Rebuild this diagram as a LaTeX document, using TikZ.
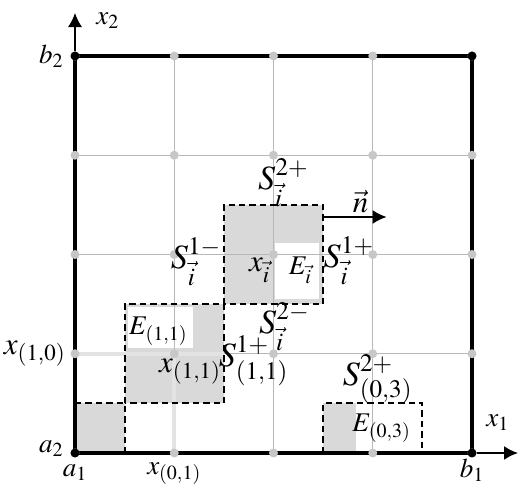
\documentclass[tikz,border=0pt]{standalone}
\usepackage{amsmath, amssymb}
\usepackage{mathptmx}
\usepackage{tikz}
\usetikzlibrary{arrows.meta, positioning}

\begin{document}
\begin{tikzpicture}[
    x             = 49.625pt,
    y             = 49.625pt,
    font          = \fontsize{13.5}{15}\selectfont,
    grid/.style   = {black!28, line width=0.5pt},
    proj/.style   = {black!11, line width=1.8pt},
    bdry/.style   = {black, line width=1.9pt},
    cell/.style   = {black, line width=0.9pt, dash pattern=on 3.2pt off 2pt},
    shade/.style  = {fill=black!15},
    gdot/.style   = {circle, fill=black!22, inner sep=0pt, minimum size=4.5pt},
    bdot/.style   = {circle, fill=black, inner sep=0pt, minimum size=4.5pt},
    axis/.style   = {-{Latex[length=7pt, width=7pt]}},
    lab/.style    = {inner sep=0pt},
    big/.style    = {inner sep=0pt, font=\fontsize{17}{19}\selectfont},
    mid/.style    = {inner sep=0pt, font=\fontsize{15.5}{17}\selectfont},
  ]
  \useasboundingbox (-0.7557,-0.3325) rectangle (4.4736,4.5642);

  \fill[shade] (0,0) rectangle (0.5,0.5);
  \fill[shade] (0.5,0.5) rectangle (1.5,1.5);
  \fill[shade] (1.5,1.5) rectangle (2.5,2.5);
  \fill[shade] (2.5,0) rectangle (2.83,0.5);
  \fill[white] (0.53,1.06) rectangle (1.19,1.47);
  \fill[white] (2.02,1.55) rectangle (2.46,2.12);

  \foreach \k in {1,2,3} {
    \draw[grid] (\k,0) -- (\k,4);
    \draw[grid] (0,\k) -- (4,\k);
  }
  \draw[proj] (0,1) -- (1.5,1);
  \draw[proj] (1,0) -- (1,1);

  \draw[cell] (0,0.5) -- (0.5,0.5) -- (0.5,0);
  \draw[cell] (0.5,0.5) rectangle (1.5,1.5);
  \draw[cell] (1.5,1.5) rectangle (2.5,2.5);
  \draw[cell] (2.5,0) -- (2.5,0.5) -- (3.5,0.5) -- (3.5,0);

  \draw[bdry] (0,0) rectangle (4,4);

  \foreach \i in {0,...,4}
    \foreach \j in {0,...,4}
      \node[gdot] (p\i\j) at (\i,\j) {};
  \foreach \i/\j in {0/0, 0/4, 4/0, 4/4}
    \node[bdot] (c\i\j) at (\i,\j) {};

  \coordinate (x2tip) at (0,4.433);
  \coordinate (x1tip) at (4.465,0);
  \coordinate (nfoot) at (2.5,2.378);
  \coordinate (ntip) at (3.14,2.378);
  \draw[axis, line width=0.6pt] (c04) -- (x2tip);
  \draw[axis, line width=1.2pt] (c40) -- (x1tip);
  \draw[axis, line width=1pt] (nfoot) -- (ntip);

  \node[mid, above left=2pt and 9pt of ntip] (ln) {$\vec{n}$};
  \node[lab, left=3pt of c04] (lb2) {$b_2$};
  \node[lab, left=3pt of c00, yshift=2pt] (la2) {$a_2$};
  \node[lab, below=3pt of c00] (la1) {$a_1$};
  \node[lab, below=2pt of p10] (lx01) {$x_{(0,1)}$};
  \node[lab, below=0.5pt of c40] (lb1) {$b_1$};
  \node[mid, left=2pt of p01] (lx10) {$x_{(1,0)}$};
  \node[lab] (lx1) at (4.26,0.31) {$x_1$};
  \node[lab] (lx2) at (0.33,4.36) {$x_2$};
  \node[lab] (lE11) at (0.84,1.23) {$E_{(1,1)}$};
  \node[mid] (lx11) at (1.16,0.82) {$x_{(1,1)}$};
  \node[big] (lS11) at (1.80,0.93) {$S^{1+}_{(1,1)}$};
  \node[big] (lSm2) at (2.11,1.27) {$S^{2-}_{\vec{i}}$};
  \node[big] (lSp2) at (2.10,2.72) {$S^{2+}_{\vec{i}}$};
  \node[big] (lSm1) at (1.22,1.93) {$S^{1-}_{\vec{i}}$};
  \node[big] (lSp1) at (2.76,1.94) {$S^{1+}_{\vec{i}}$};
  \node[mid] (lxi) at (1.86,1.84) {$x_{\vec{i}}$};
  \node[lab] (lEi) at (2.27,1.84) {$E_{\vec{i}}$};
  \node[big] (lS03) at (3.05,0.74) {$S^{2+}_{(0,3)}$};
  \node[lab] (lE03) at (3.09,0.25) {$E_{(0,3)}$};
\end{tikzpicture}
\end{document}
